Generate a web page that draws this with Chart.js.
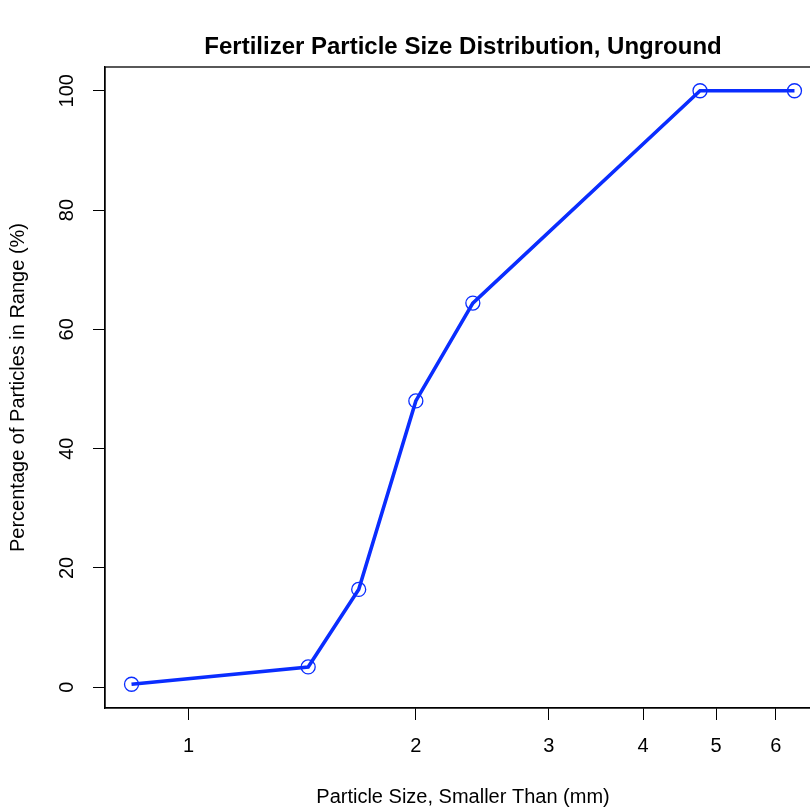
<!DOCTYPE html>
<html>
<head>
<meta charset="utf-8">
<script src="https://cdn.jsdelivr.net/npm/chart.js@4/dist/chart.umd.min.js"></script>
<style>
  html, body { margin: 0; padding: 0; background: #fff; overflow: hidden; }
  #wrap { width: 810px; height: 810px; overflow: hidden; }
  canvas { display: block; }
</style>
</head>
<body>
<div id="wrap"><canvas id="c" width="840" height="810"></canvas></div>
<script>
// Sieve opening (mm) and cumulative percent passing
const sizes = [0.84, 1.44, 1.68, 2.0, 2.38, 4.76, 6.35];
const percentPassing = [0.5, 3.4, 16.4, 48.0, 64.4, 100, 100];
const xTickValues = [1, 2, 3, 4, 5, 6];
const yTickValues = [0, 20, 40, 60, 80, 100];

const chartTitle = 'Fertilizer Particle Size Distribution, Unground';
const xTitle = 'Particle Size, Smaller Than (mm)';
const yTitle = 'Percentage of Particles in Range (%)';

const FONT = "'Liberation Sans', Arial, Helvetica, sans-serif";
const BLUE = '#0a2dff';

// axis ranges padded by 4% of the data span (log span for x)
const lx = sizes.map(v => Math.log10(v));
const lxMin = Math.min(...lx), lxMax = Math.max(...lx);
const lxPad = 0.04 * (lxMax - lxMin);
const yMinD = Math.min(...percentPassing), yMaxD = Math.max(...percentPassing);
const yPad = 0.04 * (yMaxD - yMinD);

const frame = {
  id: 'frame',
  afterDraw(chart) {
    const { ctx, chartArea: a } = chart;
    ctx.save();
    ctx.strokeStyle = '#000';
    ctx.lineWidth = 1.3;
    ctx.strokeRect(a.left, a.top, a.right - a.left, a.bottom - a.top);
    ctx.fillStyle = '#000';
    ctx.font = 'bold 24px ' + FONT;
    ctx.textAlign = 'center';
    ctx.textBaseline = 'middle';
    ctx.fillText(chartTitle, (a.left + a.right) / 2, 47);
    ctx.restore();
  }
};

new Chart(document.getElementById('c'), {
  type: 'line',
  data: {
    datasets: [{
      data: sizes.map((x, i) => ({ x, y: percentPassing[i] })),
      borderColor: BLUE,
      borderWidth: 3.6,
      tension: 0,
      pointRadius: 7,
      pointHoverRadius: 7,
      pointBorderWidth: 1.3,
      pointBorderColor: BLUE,
      pointBackgroundColor: 'rgba(0,0,0,0)'
    }]
  },
  options: {
    responsive: false,
    animation: false,
    events: [],
    layout: { padding: { top: 67, right: 19, bottom: 0, left: 0 } },
    plugins: { legend: { display: false }, title: { display: false }, tooltip: { enabled: false } },
    scales: {
      x: {
        type: 'logarithmic',
        min: Math.pow(10, lxMin - lxPad),
        max: Math.pow(10, lxMax + lxPad),
        afterBuildTicks: s => { s.ticks = xTickValues.map(v => ({ value: v })); },
        afterFit: s => { s.height = 102; },
        grid: { drawOnChartArea: false, drawTicks: true, tickLength: 12, color: '#000', lineWidth: 1 },
        border: { display: true, color: '#000', width: 1.3 },
        ticks: {
          autoSkip: false, maxRotation: 0, minRotation: 0,
          color: '#000', font: { family: FONT, size: 20 }, padding: 14,
          callback: v => String(v)
        },
        title: { display: true, text: xTitle, color: '#000', font: { family: FONT, size: 20 }, padding: { bottom: 1 } }
      },
      y: {
        type: 'linear',
        min: yMinD - yPad,
        max: yMaxD + yPad,
        afterBuildTicks: s => { s.ticks = yTickValues.map(v => ({ value: v })); },
        afterFit: s => { s.width = 105; },
        grid: { drawOnChartArea: false, drawTicks: true, tickLength: 12, color: '#000', lineWidth: 1 },
        border: { display: true, color: '#000', width: 1.3 },
        ticks: {
          minRotation: 90, maxRotation: 90, crossAlign: 'center',
          color: '#000', font: { family: FONT, size: 20 }, padding: 9,
          callback: v => String(v)
        },
        title: { display: true, text: yTitle, color: '#000', font: { family: FONT, size: 20 }, padding: { top: 6 } }
      }
    }
  },
  plugins: [frame]
});
</script>
</body>
</html>
